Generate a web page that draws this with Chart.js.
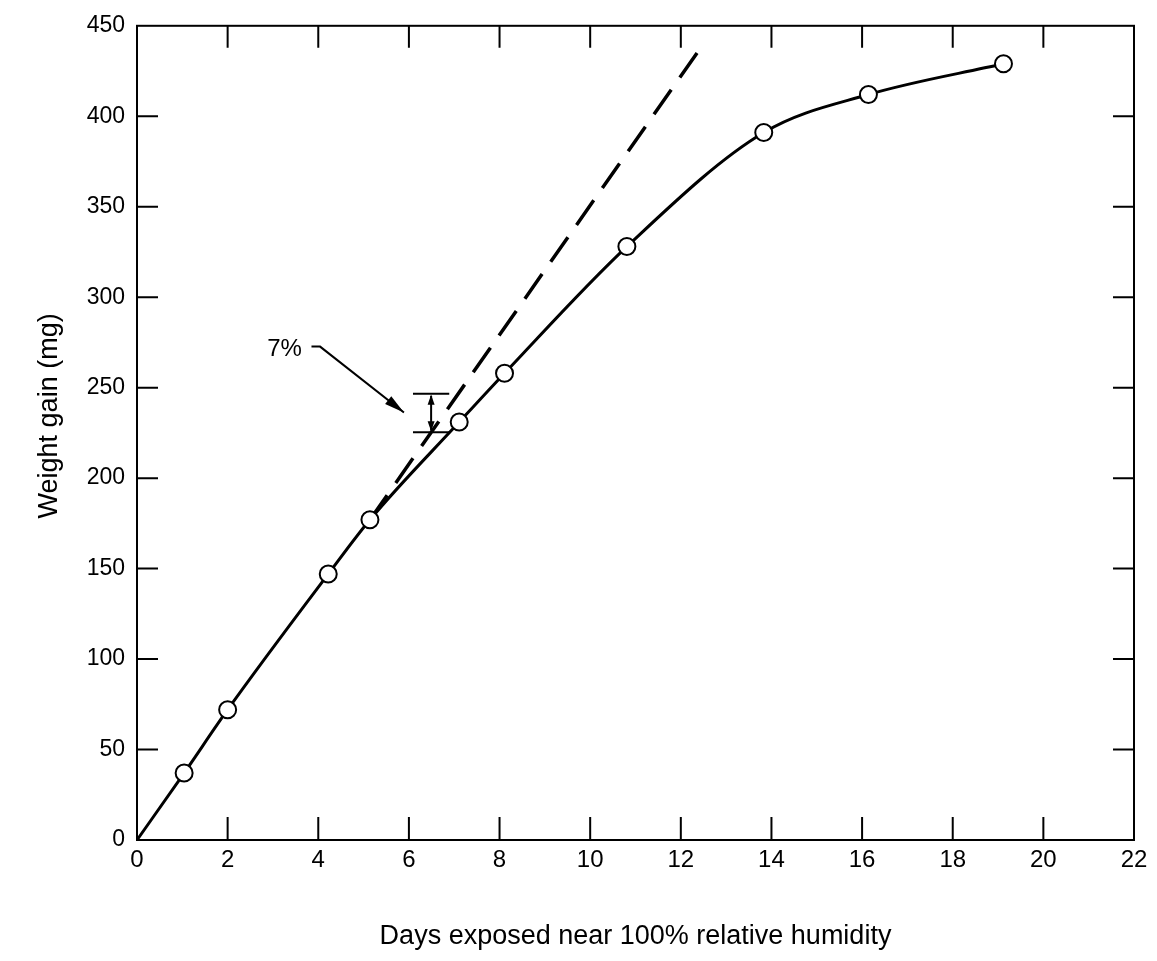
<!DOCTYPE html>
<html><head><meta charset="utf-8">
<script src="https://cdn.jsdelivr.net/npm/chart.js@4"></script>
<style>html,body{margin:0;padding:0;background:#fff}</style>
</head><body>
<canvas id="c" width="1157" height="961"></canvas>
<script>
// ---- data ----
const days = [0, 1.04, 2.0, 4.22, 5.14, 7.11, 8.11, 10.81, 13.83, 16.14, 19.12];
const gain = [0, 37, 72, 147, 177, 231, 258, 328, 391, 412, 429];
const tangentDays = [5.14, 12.47];
const tangentGain = [177, 439];
const xTitle = 'Days exposed near 100% relative humidity';
const yTitle = 'Weight gain (mg)';
const noteLabel = '7%';
const notePos = [3.64, 271];
const noteLeader = [[3.85, 272.7], [4.04, 272.7], [5.89, 236.3]];
const bracketX = [6.09, 6.89];
const bracketY = [225.3, 246.7];
const bracketArrowX = 6.49;

const FONT = "'Liberation Sans', Arial, Helvetica, sans-serif";

const framePlugin = {
  id: 'frame',
  afterDatasetsDraw(chart) {
    const {ctx, chartArea: a, scales: {x, y}} = chart;
    ctx.save();
    ctx.strokeStyle = '#000';
    ctx.lineWidth = 2;
    ctx.strokeRect(a.left, a.top, a.right - a.left, a.bottom - a.top);
    ctx.beginPath();
    x.ticks.forEach(t => {
      if (t.value <= x.min || t.value >= x.max) return;
      const px = x.getPixelForValue(t.value);
      ctx.moveTo(px, a.bottom); ctx.lineTo(px, a.bottom - 23);
      ctx.moveTo(px, a.top); ctx.lineTo(px, a.top + 22);
    });
    y.ticks.forEach(t => {
      if (t.value <= y.min || t.value >= y.max) return;
      const py = y.getPixelForValue(t.value);
      ctx.moveTo(a.left, py); ctx.lineTo(a.left + 21, py);
      ctx.moveTo(a.right, py); ctx.lineTo(a.right - 21, py);
    });
    ctx.stroke();

    // y axis title
    ctx.save();
    ctx.fillStyle = '#000';
    ctx.font = '27px ' + FONT;
    ctx.textAlign = 'center';
    ctx.textBaseline = 'middle';
    ctx.translate(50, (a.top + a.bottom) / 2 - 17);
    ctx.rotate(-Math.PI / 2);
    ctx.fillText(yTitle, 0, 0);
    ctx.restore();

    // annotation
    const P = (dx, dy) => [x.getPixelForValue(dx), y.getPixelForValue(dy)];
    ctx.fillStyle = '#000';
    ctx.font = '24px ' + FONT;
    ctx.textAlign = 'right';
    ctx.textBaseline = 'middle';
    const [tx, ty] = P(notePos[0], notePos[1]);
    ctx.fillText(noteLabel, tx, ty);

    const pts = noteLeader.map(p => P(p[0], p[1]));
    ctx.lineWidth = 2;
    ctx.beginPath();
    ctx.moveTo(pts[0][0], pts[0][1]);
    for (let i = 1; i < pts.length; i++) ctx.lineTo(pts[i][0], pts[i][1]);
    ctx.stroke();
    const arrowHead = (from, to, len, half) => {
      const ang = Math.atan2(to[1] - from[1], to[0] - from[0]);
      ctx.beginPath();
      ctx.moveTo(to[0], to[1]);
      ctx.lineTo(to[0] - len * Math.cos(ang) + half * Math.sin(ang), to[1] - len * Math.sin(ang) - half * Math.cos(ang));
      ctx.lineTo(to[0] - len * Math.cos(ang) - half * Math.sin(ang), to[1] - len * Math.sin(ang) + half * Math.cos(ang));
      ctx.closePath();
      ctx.fill();
    };
    arrowHead(pts[pts.length - 2], pts[pts.length - 1], 20, 5);

    const [bx0, by0] = P(bracketX[0], bracketY[0]);
    const [bx1, by1] = P(bracketX[1], bracketY[1]);
    const [ax] = P(bracketArrowX, 0);
    ctx.lineWidth = 2;
    ctx.beginPath();
    ctx.moveTo(bx0, by0); ctx.lineTo(bx1, by0);
    ctx.moveTo(bx0, by1); ctx.lineTo(bx1, by1);
    ctx.moveTo(ax, by0 - 2); ctx.lineTo(ax, by1 + 2);
    ctx.stroke();
    arrowHead([ax, (by0 + by1) / 2], [ax, by1 + 1], 10, 3.5);
    arrowHead([ax, (by0 + by1) / 2], [ax, by0 - 1], 10, 3.5);
    ctx.restore();
  }
};

new Chart(document.getElementById('c'), {
  type: 'scatter',
  data: {
    datasets: [
      {
        data: days.map((d, i) => ({x: d, y: gain[i]})),
        showLine: true,
        borderColor: '#000',
        borderWidth: 3,
        cubicInterpolationMode: 'monotone',
        pointRadius: days.map(d => d === 0 ? 0 : 8.5),
        pointBackgroundColor: '#fff',
        pointBorderColor: '#000',
        pointBorderWidth: 2
      },
      {
        data: tangentDays.map((d, i) => ({x: d, y: tangentGain[i]})),
        showLine: true,
        borderColor: '#000',
        borderWidth: 3.5,
        borderDash: [30, 15],
        pointRadius: 0,
        order: 1
      }
    ]
  },
  options: {
    responsive: false,
    animation: false,
    layout: {padding: {left: 0, right: 23, top: 21, bottom: 0}},
    plugins: {legend: {display: false}, tooltip: {enabled: false}},
    scales: {
      x: {
        type: 'linear', min: 0, max: 22,
        ticks: {stepSize: 2, color: '#000', font: {size: 24, family: FONT}, padding: 6, maxRotation: 0},
        grid: {display: false, drawTicks: false},
        border: {display: false},
        title: {display: true, text: xTitle, color: '#000', font: {size: 27, family: FONT}, padding: {top: 0, bottom: 8}},
        afterFit(s) { s.height = 121; }
      },
      y: {
        type: 'linear', min: 0, max: 450,
        ticks: {stepSize: 50, color: '#000', font: {size: 23, family: FONT}, padding: 12},
        grid: {display: false, drawTicks: false},
        border: {display: false},
        title: {display: false, text: yTitle},
        afterFit(s) { s.width = 137; }
      }
    }
  },
  plugins: [framePlugin]
});
</script>
</body></html>
